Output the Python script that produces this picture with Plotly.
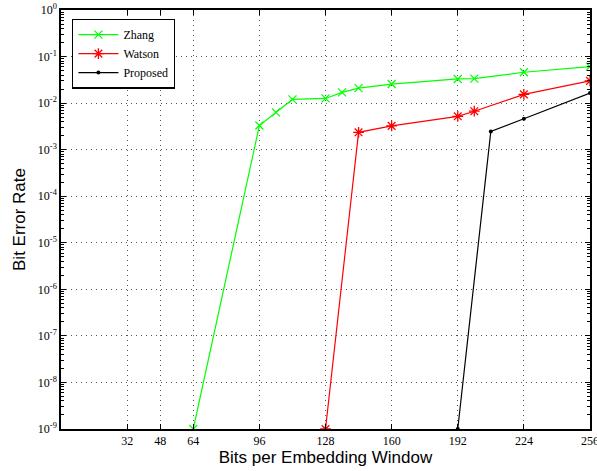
import plotly.graph_objects as go

zhang_x = [64, 96, 104, 112, 128, 136, 144, 160, 192, 200, 224, 256]
zhang_y = [1e-9, 3.3e-3, 6.3e-3, 1.2e-2, 1.26e-2, 1.7e-2, 2.1e-2, 2.57e-2, 3.3e-2, 3.35e-2, 4.6e-2, 6.1e-2]

watson_x = [128, 144, 160, 192, 200, 224, 256]
watson_y = [1e-9, 2.36e-3, 3.25e-3, 5.2e-3, 6.7e-3, 1.54e-2, 3.0e-2]

proposed_x = [192, 208, 224, 256]
proposed_y = [1e-9, 2.46e-3, 4.6e-3, 1.65e-2]

x_ticks = [32, 48, 64, 96, 128, 160, 192, 224, 256]
y_exps = [-9, -8, -7, -6, -5, -4, -3, -2, -1, 0]
minor_vals = [m * 10.0 ** e for e in y_exps[:-1] for m in range(2, 10)]

fig = go.Figure()
fig.add_trace(go.Scatter(x=zhang_x, y=zhang_y, name="Zhang", mode="lines+markers",
                         line=dict(color="#00ff00", width=1.2),
                         marker=dict(symbol="x-thin-open", size=8, color="#00ff00",
                                     line=dict(color="#00ff00", width=1.2))))
fig.add_trace(go.Scatter(x=watson_x, y=watson_y, name="Watson", mode="lines+markers",
                         line=dict(color="#ff0000", width=1.2),
                         marker=dict(symbol="asterisk-open", size=9, color="#ff0000",
                                     line=dict(color="#ff0000", width=1.3))))
fig.add_trace(go.Scatter(x=proposed_x, y=proposed_y, name="Proposed", mode="lines+markers",
                         line=dict(color="#000000", width=1.2),
                         marker=dict(symbol="circle", size=4, color="#000000")))

serif = "Liberation Serif, Times New Roman, serif"
sans = "Liberation Sans, Arial, sans-serif"
grid_dash = "1px,4px"
fig.update_layout(
    width=597, height=471,
    margin=dict(l=61, r=7, t=10, b=42, autoexpand=False),
    paper_bgcolor="white", plot_bgcolor="white",
    font=dict(family=serif, size=12, color="black"),
    legend=dict(x=0.021, y=0.979, xanchor="left", yanchor="top",
                bgcolor="white", bordercolor="black", borderwidth=1.3,
                font=dict(family=serif, size=12), tracegroupgap=0,
                itemwidth=40),
    showlegend=True,
)
fig.update_xaxes(
    range=[0, 256], tickvals=x_ticks, ticktext=[str(v) for v in x_ticks],
    automargin=False, ticklabeloverflow="allow",
    showline=True, linecolor="black", linewidth=1.5, mirror="ticks",
    ticks="inside", ticklen=5, tickcolor="black", tickwidth=1,
    showgrid=True, gridcolor="#555555", griddash=grid_dash, gridwidth=1,
    zeroline=False,
    tickfont=dict(family=serif, size=12),
    title=dict(text="Bits per Embedding Window", standoff=2,
               font=dict(family=sans, size=17)),
)
fig.update_yaxes(
    type="log", range=[-9, 0],
    tickvals=[10.0 ** e for e in y_exps],
    ticktext=["10<sup>%d</sup>" % e for e in y_exps],
    automargin=False, ticklabeloverflow="allow",
    showline=True, linecolor="black", linewidth=1.5, mirror="ticks",
    ticks="inside", ticklen=5, tickcolor="black", tickwidth=1,
    minor=dict(ticks="inside", ticklen=3, tickcolor="black", tickwidth=1,
               showgrid=False, tickmode="array", tickvals=minor_vals),
    showgrid=True, gridcolor="#555555", griddash=grid_dash, gridwidth=1,
    zeroline=False,
    tickfont=dict(family=serif, size=12),
    title=dict(text="Bit Error Rate", standoff=8,
               font=dict(family=sans, size=17)),
)

fig.write_html("out.html", config={"displayModeBar": False},
               post_script="document.body.style.margin='0';document.body.style.overflow='hidden';")
